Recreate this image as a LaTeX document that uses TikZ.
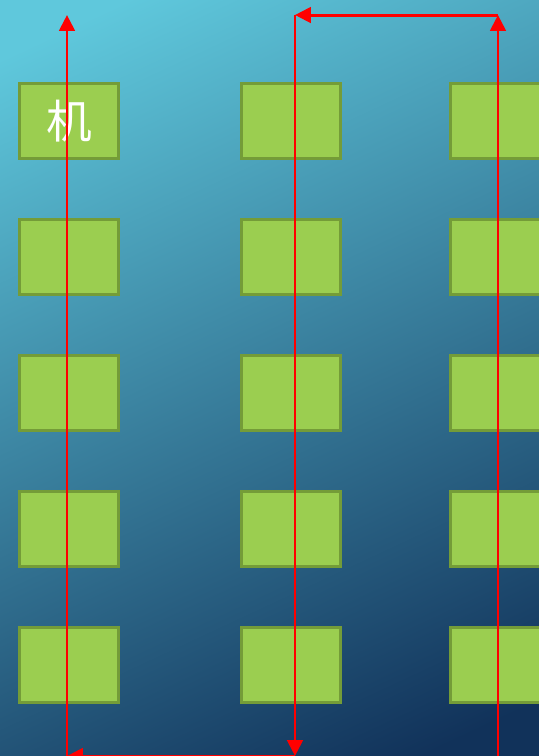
\documentclass[tikz,border=0pt]{standalone}
\usepackage{fontspec}
\newfontfamily\cjkfont{Noto Sans CJK SC}
\usetikzlibrary{arrows.meta}
\definecolor{bgtop}{RGB}{95,200,220}
\definecolor{bgmid}{RGB}{55,142,176}
\definecolor{bgbot}{RGB}{17,50,90}
\definecolor{seatfill}{RGB}{155,206,80}
\definecolor{seatline}{RGB}{116,156,56}
\definecolor{routered}{RGB}{255,0,0}

\begin{document}
\begin{tikzpicture}[x=0.01cm, y=-0.01cm,
		seat/.style={draw=seatline, fill=seatfill, line width=1pt, minimum width=0.99cm, minimum height=0.75cm, inner sep=0pt},
		route/.style={draw=routered, line width=0.85pt, -{Triangle[length=4.5pt,width=4.4pt]}}]
		\useasboundingbox (0,0) rectangle (539,756);
		\clip (0,0) rectangle (539,756);
		\shade[top color=bgtop, middle color=bgmid, bottom color=bgbot, shading angle=25] (-60,-60) rectangle (600,820);
		% seats, 3 columns x 5 rows
		\foreach \c/\x in {1/69,2/291,3/500}{
			\foreach \r/\y in {1/121,2/257,3/393,4/529,5/665}{
				\node[seat] (s\c\r) at (\x,\y) {};
			}
		}
		\node[text=white, font=\cjkfont\fontsize{13}{13}\selectfont] (lbl) at (s11) {机};
		% route corners
		\coordinate (b1) at (67,756);
		\coordinate (t1) at (67,15);
		\coordinate (b2) at (295,756);
		\coordinate (t2) at (295,15);
		\coordinate (b3) at (498,756);
		\coordinate (t3) at (498,15);
		\draw[route] (b2) -- (b1);
		\draw[route] (b1) -- (t1);
		\draw[route] (t2) -- (b2);
		\draw[route] (t3) -- (t2);
		\draw[route] (b3) -- (t3);
		%\draw[route] (b3) -- (b2);
	\end{tikzpicture}
\end{document}
